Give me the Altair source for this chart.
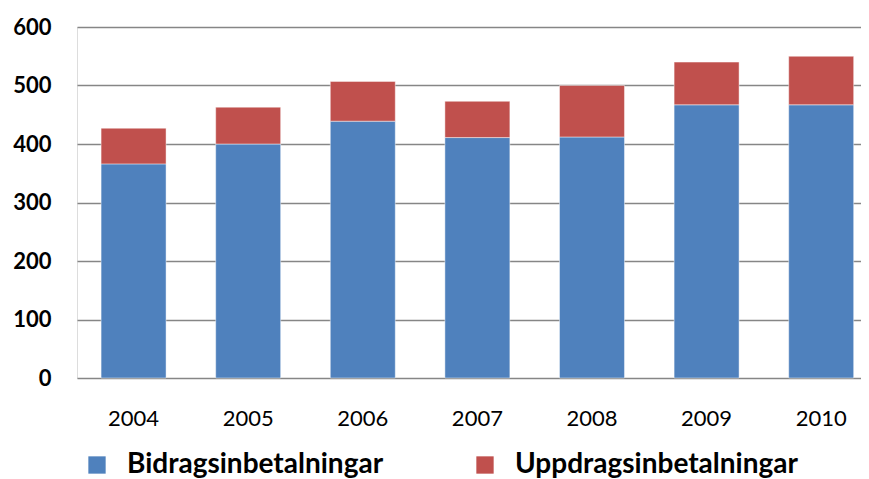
import altair as alt
import pandas as pd

years = ["2004", "2005", "2006", "2007", "2008", "2009", "2010"]
bidrag = [366, 400, 439, 411, 412, 467, 467]
uppdrag_total = [427, 463, 507, 473, 500, 540, 550]
series = ["Bidragsinbetalningar", "Uppdragsinbetalningar"]
colors = ["#4F81BD", "#C0504D"]

rows = []
for y, b, t in zip(years, bidrag, uppdrag_total):
    rows.append({"year": y, "serie": series[0], "value": b, "ord": 0})
    rows.append({"year": y, "serie": series[1], "value": t - b, "ord": 1})
df = pd.DataFrame(rows)

FONT = "Lato"

chart = alt.Chart(df).mark_bar(stroke="#FFFFFF", strokeOpacity=0.45, strokeWidth=1).encode(
    x=alt.X("year:N", title=None,
            scale=alt.Scale(paddingInner=0.433, paddingOuter=0.137, align=0.767),
            axis=alt.Axis(labelAngle=0, labelFontSize=22, labelFont=FONT, labelColor="#000000",
                          labelPadding=30, ticks=False, domain=False)),
    y=alt.Y("value:Q", title=None, stack="zero",
            scale=alt.Scale(domain=[0, 600], nice=False),
            axis=alt.Axis(values=[0, 100, 200, 300, 400, 500, 600], labelFontSize=22, labelFont=FONT,
                          labelFontWeight="bold", labelColor="#000000", labelPadding=26,
                          ticks=False, domain=False, grid=True, gridColor="#868686", gridWidth=1.5)),
    color=alt.Color("serie:N", title=None,
                    scale=alt.Scale(domain=series, range=colors),
                    legend=alt.Legend(orient="none", legendX=6, legendY=424, direction="horizontal",
                                      columns=2, columnPadding=87, symbolType="square", symbolSize=300,
                                      symbolStrokeWidth=0, labelFontSize=28, labelFont=FONT,
                                      labelFontWeight="bold", labelColor="#000000", labelOffset=16,
                                      labelLimit=500)),
    order=alt.Order("ord:Q", sort="ascending"),
).properties(
    width=784, height=351,
    padding={"left": 69, "top": 19, "right": 0, "bottom": 100},
    autosize=alt.AutoSizeParams(type="none"),
).configure_view(stroke=None).configure(background="#FFFFFF")

chart.save("out.html", embed_options={"renderer": "svg", "actions": False})
